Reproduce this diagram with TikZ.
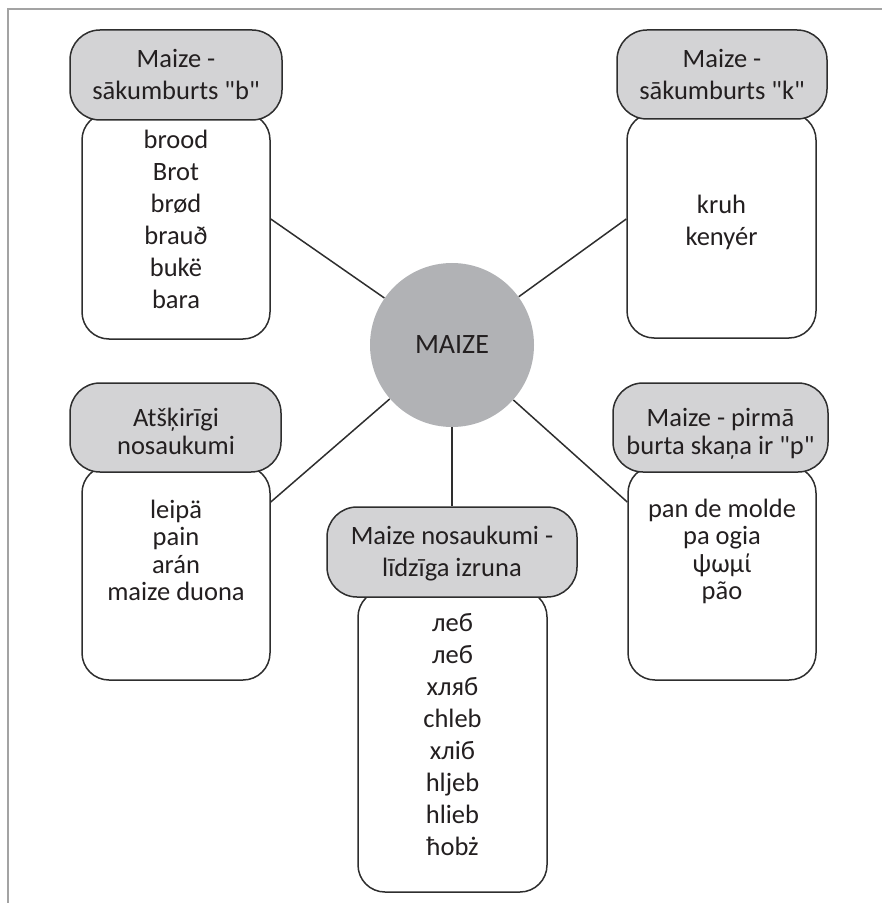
\documentclass[tikz,border=0pt]{standalone}
\usepackage{fontspec}
\setmainfont{Carlito}
\newcommand\sdq{\XeTeXglyph\XeTeXcharglyph"22\relax}
\definecolor{linec}{HTML}{2E2E2E}
\definecolor{hdrfill}{HTML}{D3D3D5}
\definecolor{circc}{HTML}{B1B2B5}
\definecolor{framec}{HTML}{A3A3A3}
\definecolor{txtc}{HTML}{231F20}
\begin{document}
\begin{tikzpicture}[x=0.5pt,y=-0.5pt,
  hdrbox/.style={draw=linec, fill=hdrfill, line width=0.75pt, rounded corners=15pt, inner sep=0pt},
  bodybox/.style={draw=linec, fill=white, line width=0.75pt, rounded corners=13.5pt, inner sep=0pt},
  lbl/.style={align=center, inner sep=0pt, text=txtc, font=\fontsize{13.25}{16}\selectfont},
  lblmid/.style={lbl, font=\fontsize{13.25}{13.75}\selectfont},
  conn/.style={draw=linec, line width=0.75pt}]
\useasboundingbox (0,0) rectangle (882,903);
% frame
\draw[framec, line width=1pt] (8,903) -- (8,9) -- (882,9);

% centre
\node[circle, fill=circc, minimum size=82pt, inner sep=0pt, text=txtc, font=\fontsize{14}{16}\selectfont] (circ) at (452,345) {MAIZE};

% bodies
\node[bodybox, minimum width=94pt, minimum height=113pt] (tlb) at (176,226) {};
\node[bodybox, minimum width=94.5pt, minimum height=112.5pt] (trb) at (721.5,225.5) {};
\node[bodybox, minimum width=94pt, minimum height=107pt] (mlb) at (176,573) {};
\node[bodybox, minimum width=94pt, minimum height=107pt] (mrb) at (722,573) {};
\node[bodybox, minimum width=94.5pt, minimum height=151pt] (bb) at (452.5,741) {};

% headers
\node[hdrbox, minimum width=106pt, minimum height=45pt] (tlh) at (176,75) {};
\node[hdrbox, minimum width=105pt, minimum height=44.5pt] (trh) at (722,74.5) {};
\node[hdrbox, minimum width=105.5pt, minimum height=44.5pt] (mlh) at (175.5,427.5) {};
\node[hdrbox, minimum width=107.5pt, minimum height=44.5pt] (mrh) at (720.5,427.5) {};
\node[hdrbox, minimum width=125pt, minimum height=45pt] (bh) at (452,552) {};

% header texts
\node[lbl] (tlht) at (176,77.5) {\strut Maize -\\\strut sākumburts \sdq b\sdq};
\node[lbl] (trht) at (722,77.5) {\strut Maize -\\\strut sākumburts \sdq k\sdq};
\node[lblmid] (mlht) at (176,435) {\strut Atšķirīgi\\\strut nosaukumi};
\node[lblmid] (mrht) at (720.5,435) {\strut Maize - pirmā\\\strut burta skaņa ir \sdq p\sdq};
\node[lbl] (bht) at (452,554) {\strut Maize nosaukumi -\\\strut līdzīga izruna};

% body texts
\node[lbl] (tlbt) at (176,222) {\strut brood\\\strut Brot\\\strut brød\\\strut brauð\\\strut bukë\\\strut bara};
\node[lbl] (trbt) at (721.5,223) {\strut kruh\\\strut kenyér};
\node[lblmid] (mlbt) at (176,554) {\strut leipä\\\strut pain\\\strut arán\\\strut maize duona};
\node[lblmid] (mrbt) at (722,553) {\strut pan de molde\\\strut pa ogia\\\strut ψωμί\\\strut pão};
\node[lbl] (bbt) at (452.5,737) {\strut леб\\\strut леб\\\strut хляб\\\strut chleb\\\strut хліб\\\strut hljeb\\\strut hlieb\\\strut ħobż};

% connectors
\draw[conn] (circ) -- ([yshift=3.5pt]tlb.east);
\draw[conn] (circ) -- ([yshift=3.25pt]trb.west);
\draw[conn] (circ) -- ([yshift=35.5pt]mlb.east);
\draw[conn] (circ) -- ([yshift=35.5pt]mrb.west);
\draw[conn] (circ) -- (bh);
\end{tikzpicture}
\end{document}
